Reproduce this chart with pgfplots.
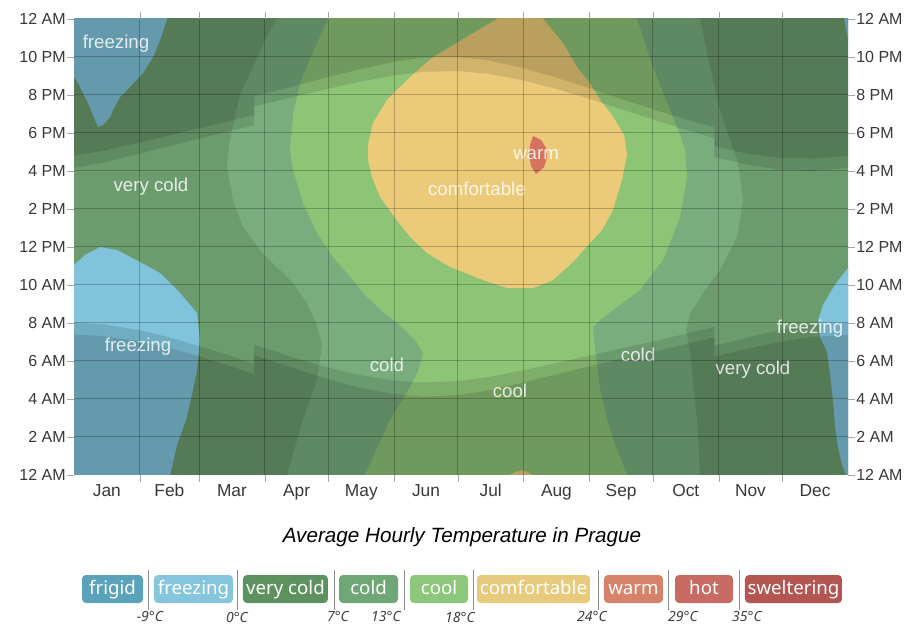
\documentclass[border=0pt]{standalone}
\usepackage{fontspec}
\setmainfont{Liberation Sans}
\newfontfamily\noto{Noto Sans}
\usepackage{pgfplots}
\pgfplotsset{compat=1.18}
\definecolor{cFreez}{HTML}{80C3DB}
\definecolor{cVcold}{HTML}{6C9C6E}
\definecolor{cCold}{HTML}{79AD7D}
\definecolor{cCool}{HTML}{8EC476}
\definecolor{cComf}{HTML}{EBCB79}
\definecolor{cWarm}{HTML}{D6735F}
\definecolor{lFrigid}{HTML}{5AA2B9}
\definecolor{lFreez}{HTML}{86C6DD}
\definecolor{lVcold}{HTML}{5E9160}
\definecolor{lCold}{HTML}{6FA776}
\definecolor{lCool}{HTML}{8DC77B}
\definecolor{lComf}{HTML}{E8CA7C}
\definecolor{lWarm}{HTML}{D7826A}
\definecolor{lHot}{HTML}{C96B65}
\definecolor{lSwel}{HTML}{B35550}
\begin{document}
\begin{tikzpicture}
\useasboundingbox (0,0) rectangle (681.75pt,471pt);
\begin{axis}[at={(55.5pt,114.75pt)}, anchor=south west, scale only axis,
  width=580.5pt, height=342pt, xmin=0, xmax=365, ymin=0, ymax=24,
  axis on top, axis line style={draw=none},
  tick align=outside, major tick length=5pt,
  xtick={31,59,90,120,151,181,212,243,273,304,334}, xticklabels={},
  xmajorgrids,
  extra x ticks={15.5,45,74.5,105,135.5,166,196.5,227.5,258,288.5,319,349.5},
  extra x tick labels={Jan,Feb,Mar,Apr,May,Jun,Jul,Aug,Sep,Oct,Nov,Dec},
  extra x tick style={grid=none, tick style={draw=none}, xticklabel style={yshift=2pt}},
  ytick={2,4,...,22},
  yticklabels={2 AM,4 AM,6 AM,8 AM,10 AM,12 PM,2 PM,4 PM,6 PM,8 PM,10 PM},
  ymajorgrids,
  extra y ticks={0,24}, extra y tick labels={12 AM,12 AM},
  extra y tick style={grid=none},
  tick style={draw=black!35},
  major grid style={black, opacity=0.24, line width=0.75pt},
  xticklabel style={font=\fontsize{13}{15}\selectfont, text=black!78, text height=9.5pt},
  yticklabel style={font=\fontsize{12}{14}\selectfont, text=black!78, inner sep=1pt},
]
% base: very cold
\addplot[fill=cVcold, draw=none] coordinates {(-1,-1) (366,-1) (366,25) (-1,25)} -- cycle;
% cold
\addplot[fill=cCold, draw=none] coordinates {(95.7,24) (90.1,22.89) (84.4,21.47) (78.3,20.0) (75.9,18.84) (73.1,17.37) (72.2,16.21) (75.0,14.47) (79.7,13.05) (87.7,11.84) (95.7,10.95) (103.3,10.11) (109.9,9.05) (114.6,7.89) (117.0,6.84) (114.6,5.0) (108.0,2.89) (100.4,0) (100.4,-1) (295.2,-1) (295.2,0) (293.8,2.89) (290.5,6.42) (288.7,7.6) (290.5,8.5) (296.6,9.58) (304.6,10.79) (312.7,12.53) (315.5,14.47) (314.1,15.68) (312.7,16.58) (309.4,17.63) (304.6,19.21) (299.9,21.47) (295.2,24) (295.2,25) (95.7,25)} -- cycle;
% cool
\addplot[fill=cCool, draw=none] coordinates {(119.8,24) (113.2,22.37) (106.6,20.63) (103.3,18.95) (101.9,17.11) (103.3,16.05) (108.0,14.32) (114.6,12.74) (122.1,11.47) (130.2,10.42) (138.2,9.37) (145.7,8.58) (153.7,7.89) (160.8,7.11) (164.6,6.42) (162.2,5.42) (158.5,4.63) (149.0,2.89) (137.2,0) (137.2,-1) (260.8,-1) (260.8,0) (255.2,1.58) (251.4,2.89) (248.1,4.47) (246.6,5.89) (245.2,7.11) (244.8,7.79) (248.1,8.16) (254.2,8.68) (266.9,9.74) (277.8,11.32) (285.8,13.58) (289.1,15.68) (288.2,17.11) (285.8,17.89) (280.1,19.47) (272.6,21.58) (265.5,24) (265.5,25) (119.8,25)} -- cycle;
% comfortable
\addplot[fill=cComf, draw=none] coordinates {(199.5,24) (188.2,23.26) (180.6,22.74) (169.3,22.0) (158.5,20.95) (147.6,19.74) (141.0,18.53) (138.6,17.37) (138.6,16.58) (140.5,15.68) (144.3,14.63) (151.4,13.53) (158.5,12.53) (166.5,11.68) (177.3,10.95) (192.9,10.26) (204.2,9.84) (216.5,9.84) (225.9,10.26) (235.3,11.21) (243.3,12.21) (249.0,12.89) (254.2,13.95) (258.4,15.53) (260.8,16.84) (259.4,17.89) (253.7,18.95) (248.1,19.74) (243.3,20.63) (237.2,21.47) (230.6,22.74) (221.2,24) (221.2,25) (199.5,25)} -- cycle;
\addplot[fill=cComf, draw=none] coordinates {(205.6,-1) (205.6,0) (208,0.15) (211.3,0.25) (214,0.15) (216.5,0) (216.5,-1)} -- cycle;
% warm
\addplot[fill=cWarm, draw=none] coordinates {(216.5,17.84) (220.3,17.63) (222.6,17.21) (223.1,16.74) (221.7,16.21) (217.9,15.84) (215.5,16.26) (214.6,16.84) (215.0,17.37)} -- cycle;
% freezing
\addplot[fill=cFreez, draw=none] coordinates {(-1,25) (43.9,25) (43.9,24) (40.6,22.89) (37.3,22.0) (32.6,21.16) (26.4,20.42) (21.7,19.89) (18.4,19.21) (17.0,18.84) (13.7,18.42) (11.3,18.32) (9.9,18.68) (7.5,19.37) (4.2,20.11) (1.9,20.63) (0,20.95) (-1,20.95)} -- cycle;
\addplot[fill=cFreez, draw=none] coordinates {(-1,11.05) (0,11.05) (5.2,11.58) (12.3,12.0) (20.3,11.84) (31.1,11.21) (40.6,10.63) (50.0,9.58) (58.0,8.53) (59.4,7.11) (58.0,5.53) (55.6,4.21) (52.8,2.89) (48.6,1.58) (45.3,0) (45.3,-1) (-1,-1)} -- cycle;
\addplot[fill=cFreez, draw=none] coordinates {(366,10.89) (365,10.89) (361.2,10.37) (357.9,9.84) (353.2,8.95) (350.9,8.16) (351.8,7.26) (355.1,6.47) (356.5,5.37) (357.9,3.95) (358.9,2.53) (360.3,1.47) (362.2,0.53) (364.1,0) (364.1,-1) (366,-1)} -- cycle;
\addplot[fill=cFreez, draw=none] coordinates {(363.2,25) (366,25) (366,22.9) (365,22.9) (363.2,24)} -- cycle;
% twilight / night overlays: before sunrise
\addplot[fill=black, fill opacity=0.11, draw=none] coordinates {(0,-1) (0,8.024) (14,7.931) (31,7.616) (45,7.244) (59,6.788) (73,6.293) (85,5.856) (85,6.856) (90,6.674) (104,6.169) (120,5.648) (134,5.274) (151,4.967) (165,4.864) (181,4.944) (195,5.147) (212,5.518) (226,5.862) (243,6.281) (257,6.635) (273,7.025) (287,7.395) (302,7.802) (302,6.802) (318,7.247) (334,7.656) (348,7.906) (365,8.025) (365,-1)} -- cycle;
% before civil dawn
\addplot[fill=black, fill opacity=0.11, draw=none] coordinates {(0,-1) (0,7.385) (14,7.313) (31,7.032) (45,6.684) (59,6.245) (73,5.755) (85,5.311) (85,6.311) (90,6.127) (104,5.600) (120,5.037) (134,4.616) (151,4.253) (165,4.120) (181,4.205) (195,4.441) (212,4.872) (226,5.260) (243,5.718) (257,6.092) (273,6.487) (287,6.851) (302,7.238) (302,6.238) (318,6.654) (334,7.032) (348,7.265) (365,7.388) (365,-1)} -- cycle;
% after sunset
\addplot[fill=black, fill opacity=0.11, draw=none] coordinates {(0,25) (0,16.170) (14,16.453) (31,16.910) (45,17.306) (59,17.706) (73,18.083) (85,18.402) (85,19.402) (90,19.536) (104,19.907) (120,20.332) (134,20.680) (151,21.037) (165,21.222) (181,21.256) (195,21.129) (212,20.768) (226,20.364) (243,19.799) (257,19.289) (273,18.719) (287,18.215) (302,17.738) (302,16.738) (318,16.317) (334,16.054) (348,16.010) (365,16.151) (365,25)} -- cycle;
% after civil dusk
\addplot[fill=black, fill opacity=0.11, draw=none] coordinates {(0,25) (0,16.809) (14,17.071) (31,17.494) (45,17.866) (59,18.249) (73,18.621) (85,18.947) (85,19.947) (90,20.083) (104,20.476) (120,20.943) (134,21.338) (151,21.751) (165,21.966) (181,21.995) (195,21.835) (212,21.414) (226,20.966) (243,20.362) (257,19.832) (273,19.257) (287,18.759) (302,18.302) (302,17.302) (318,16.910) (334,16.678) (348,16.651) (365,16.788) (365,25)} -- cycle;
% region labels
\begin{scope}[every node/.style={font=\fontsize{14}{16}\selectfont, text=white, text opacity=0.82}]
\node at (axis cs:19.8,22.68) {freezing};
\node at (axis cs:36.3,15.16) {very cold};
\node at (axis cs:30.2,6.74) {freezing};
\node at (axis cs:147.6,5.79) {cold};
\node at (axis cs:205.6,4.42) {cool};
\node at (axis cs:190.0,15.05) {comfortable};
\node at (axis cs:217.9,16.84) {warm};
\node at (axis cs:266.0,6.32) {cold};
\node at (axis cs:320.2,5.53) {very cold};
\node at (axis cs:347.1,7.68) {freezing};
\end{scope}
\end{axis}
\begin{axis}[at={(55.5pt,114.75pt)}, anchor=south west, scale only axis,
  width=580.5pt, height=342pt, xmin=0, xmax=365, ymin=0, ymax=24,
  axis x line=none, axis y line*=right, y axis line style={draw=none},
  tick align=outside, major tick length=5pt,
  ytick={0,2,...,24},
  yticklabels={12 AM,2 AM,4 AM,6 AM,8 AM,10 AM,12 PM,2 PM,4 PM,6 PM,8 PM,10 PM,12 AM},
  tick style={draw=black!35},
  yticklabel style={font=\fontsize{12}{14}\selectfont, text=black!78, inner sep=1pt},
]
\end{axis}
% title
\node[font=\fontsize{15.5}{18}\selectfont\itshape] at (346.5pt,68.25pt) {Average Hourly Temperature in Prague};
% legend
\begin{scope}[every node/.style={rounded corners=3pt, minimum height=21pt, inner sep=0pt, text height=10pt, text depth=2.5pt, text=white, font=\noto\fontsize{14}{16}\selectfont}]
\node[fill=lFrigid, minimum width=45.75pt] at (84.4pt,29.25pt) {frigid};
\node[fill=lFreez, minimum width=59.25pt] at (145.1pt,29.25pt) {freezing};
\node[fill=lVcold, minimum width=63.75pt] at (214.1pt,29.25pt) {very cold};
\node[fill=lCold, minimum width=44.25pt] at (276.4pt,29.25pt) {cold};
\node[fill=lCool, minimum width=43.5pt] at (329.25pt,29.25pt) {cool};
\node[fill=lComf, minimum width=84.75pt] at (400.1pt,29.25pt) {comfortable};
\node[fill=lWarm, minimum width=44.25pt] at (475.1pt,29.25pt) {warm};
\node[fill=lHot, minimum width=43.5pt] at (528pt,29.25pt) {hot};
\node[fill=lSwel, minimum width=72.75pt] at (595.1pt,29.25pt) {sweltering};
\end{scope}
\foreach \sx in {111,177.75,250.5,303,354.75,448.5,501,554.25}{
  \draw[black!45, line width=0.75pt] (\sx pt,13.5pt) -- (\sx pt,43.5pt);
}
\begin{scope}[every node/.style={font=\noto\itshape\fontsize{10.5}{12}\selectfont, text=black!75, inner sep=0pt}]
\node at (112.5pt,8.25pt) {-9°C};
\node at (177.75pt,8.25pt) {0°C};
\node at (253.5pt,8.25pt) {7°C};
\node at (289.5pt,8.25pt) {13°C};
\node at (345pt,8.25pt) {18°C};
\node at (444pt,8.25pt) {24°C};
\node at (512.25pt,8.25pt) {29°C};
\node at (560.25pt,8.25pt) {35°C};
\end{scope}
\end{tikzpicture}
\end{document}
